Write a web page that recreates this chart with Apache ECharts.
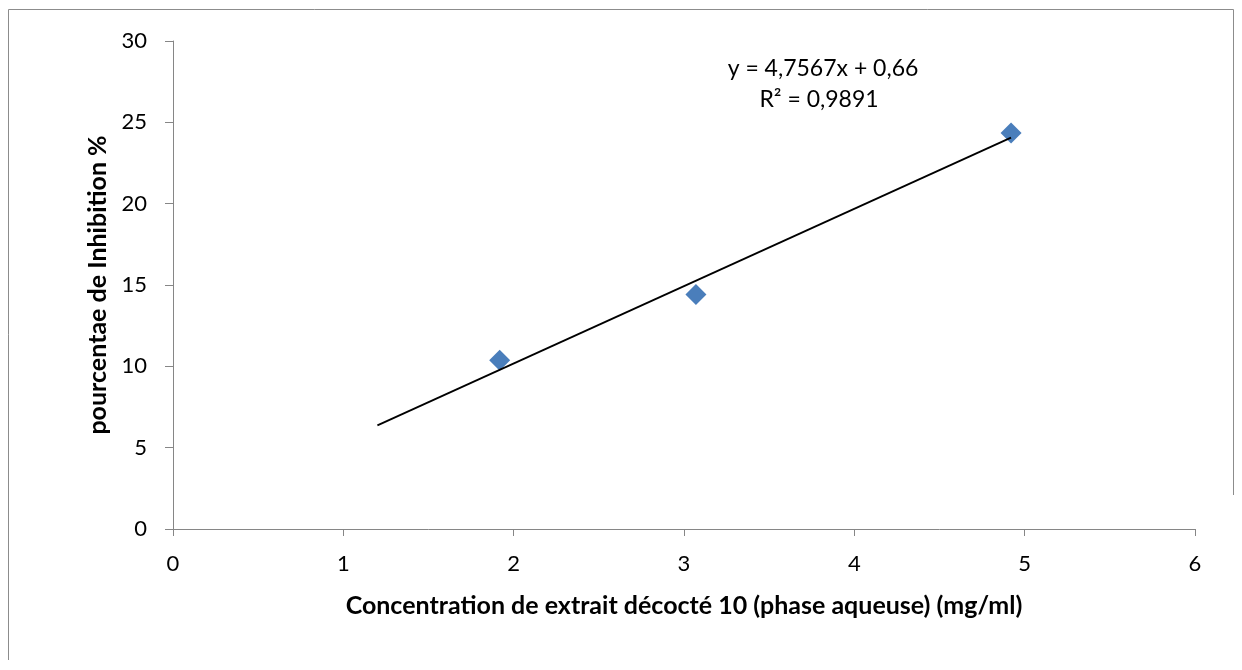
<!DOCTYPE html>
<html>
<head>
<meta charset="utf-8">
<script src="https://cdn.jsdelivr.net/npm/echarts@6/dist/echarts.min.js"></script>
<style>
html,body{margin:0;padding:0;background:#fff;}
#chart{width:1242px;height:670px;}
</style>
</head>
<body>
<div id="chart"></div>
<script>
// Data
const concentrations = [1.918, 3.07, 4.92];
const inhibition = [10.37, 14.41, 24.34];
const trendSlope = 4.7567;
const trendIntercept = 0.66;
const trendRangeX = [1.2, 4.92];
const equationLabels = ['y = 4,7567x + 0,66', 'R² = 0,9891'];
const xTitle = 'Concentration de extrait décocté 10 (phase aqueuse) (mg/ml)';
const yTitle = 'pourcentae de Inhibition %';

const points = concentrations.map((x, i) => [x, inhibition[i]]);
const trend = trendRangeX.map(x => [x, trendSlope * x + trendIntercept]);

const FONT = 'Lato, "Open Sans", sans-serif';
const chart = echarts.init(document.getElementById('chart'));
chart.setOption({
  animation: false,
  backgroundColor: '#fff',
  grid: { left: 173, right: 47, top: 41, bottom: 141, containLabel: false },
  xAxis: {
    type: 'value', min: 0, max: 6, interval: 1,
    name: xTitle, nameLocation: 'middle', nameGap: 64,
    nameTextStyle: { fontFamily: FONT, fontSize: 25, fontWeight: 'bold', color: '#000' },
    axisLine: { show: true, onZero: false, lineStyle: { color: '#868686', width: 1 } },
    axisTick: { show: true, length: 7, lineStyle: { color: '#868686' } },
    axisLabel: { fontFamily: FONT, fontSize: 22, color: '#000', margin: 24 },
    splitLine: { show: false }
  },
  yAxis: {
    type: 'value', min: 0, max: 30, interval: 5,
    name: yTitle, nameLocation: 'middle', nameGap: 58, nameRotate: 90,
    nameTextStyle: { fontFamily: FONT, fontSize: 25, fontWeight: 'bold', color: '#000' },
    axisLine: { show: true, onZero: false, lineStyle: { color: '#868686', width: 1 } },
    axisTick: { show: true, length: 8, lineStyle: { color: '#868686' } },
    axisLabel: { fontFamily: FONT, fontSize: 22, color: '#000', margin: 26 },
    splitLine: { show: false }
  },
  series: [
    {
      type: 'line', data: trend, symbol: 'none', silent: true,
      lineStyle: { color: '#000', width: 1.8 }, z: 3
    },
    {
      type: 'scatter', data: points, symbol: 'diamond', symbolSize: 21,
      itemStyle: { color: '#4A7EBB', opacity: 1 }, z: 2
    }
  ],
  graphic: [
    { type: 'line', shape: { x1: 8.5, y1: 9.5, x2: 1233.5, y2: 9.5 }, style: { stroke: '#8c8c8c', lineWidth: 1 } },
    { type: 'line', shape: { x1: 8.5, y1: 9.5, x2: 8.5, y2: 660 }, style: { stroke: '#8c8c8c', lineWidth: 1 } },
    { type: 'line', shape: { x1: 1233.5, y1: 9.5, x2: 1233.5, y2: 495 }, style: { stroke: '#8c8c8c', lineWidth: 1 } },
    {
      type: 'text', x: 823, y: 69,
      style: { text: equationLabels[0], fontFamily: FONT, fontSize: 23, fill: '#000', align: 'center', verticalAlign: 'middle' }
    },
    {
      type: 'text', x: 819, y: 100,
      style: { text: equationLabels[1], fontFamily: FONT, fontSize: 23, fill: '#000', align: 'center', verticalAlign: 'middle' }
    }
  ]
});
</script>
</body>
</html>
